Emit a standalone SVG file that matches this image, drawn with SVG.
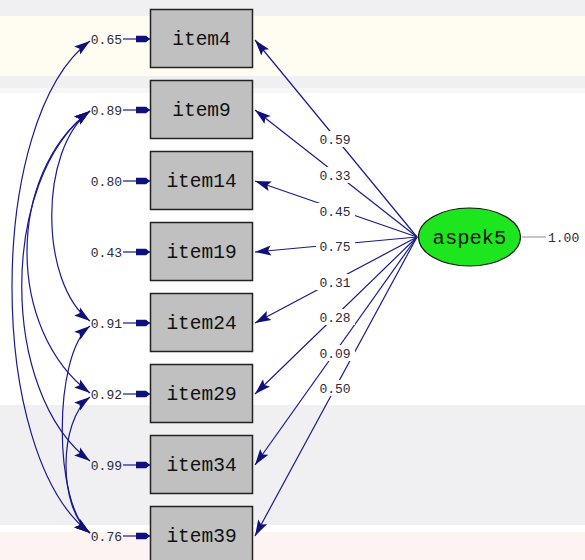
<svg xmlns="http://www.w3.org/2000/svg" width="585" height="560" viewBox="0 0 585 560">
<style>
.box{fill:#c0c0c0;stroke:#222;stroke-width:1.5}
.lbl{font-family:"Liberation Mono","DejaVu Sans Mono",monospace;font-size:19.5px;fill:#111;text-anchor:middle}
.num{font-family:"Liberation Mono","DejaVu Sans Mono",monospace;font-size:13px;fill:#2a2a3a}
.ln{fill:none;stroke:#1a1a8c;stroke-width:1.2}
</style>
<defs>
<marker id="big" viewBox="-17 -6 18 12" refX="0" refY="0" markerWidth="18" markerHeight="12" markerUnits="userSpaceOnUse" orient="auto-start-reverse">
<path d="M0,0 L-16,-5 L-13,0 L-16,5 Z" fill="#10107a"/>
</marker>
<marker id="small" viewBox="-15 -4 16 8" refX="0" refY="0" markerWidth="16" markerHeight="8" markerUnits="userSpaceOnUse" orient="auto">
<path d="M0,0 L-4,-3.2 L-14,-3.2 L-14,3.2 L-4,3.2 Z" fill="#10107a"/>
</marker>
<mask id="gaps" maskUnits="userSpaceOnUse" x="0" y="0" width="585" height="560">
<rect x="0" y="0" width="585" height="560" fill="#fff"/>
<rect x="316" y="131" width="39" height="16" fill="#000"/>
<rect x="316" y="167" width="39" height="16" fill="#000"/>
<rect x="316" y="203" width="39" height="16" fill="#000"/>
<rect x="316" y="238" width="39" height="16" fill="#000"/>
<rect x="316" y="274" width="39" height="16" fill="#000"/>
<rect x="316" y="309" width="39" height="16" fill="#000"/>
<rect x="316" y="345" width="39" height="16" fill="#000"/>
<rect x="316" y="380" width="39" height="16" fill="#000"/>
</mask>
</defs>
<g id="background">
<rect x="0" y="0" width="585" height="560" fill="#ffffff"/>
<rect x="0" y="0" width="585" height="16" fill="#f0f0f2"/>
<rect x="0" y="16" width="585" height="60" fill="#fffdf2"/>
<rect x="0" y="76" width="585" height="12" fill="#f0f0f2"/>
<rect x="0" y="88" width="585" height="5" fill="#f7f7f8"/>
<rect x="0" y="405" width="585" height="120" fill="#f0f0f3"/>
<rect x="0" y="532" width="585" height="28" fill="#fdf3f2"/>
</g>
<g id="connectors">
<g id="loadings" mask="url(#gaps)">
<path class="ln" d="M417,237 L255,40" marker-end="url(#big)"/>
<path class="ln" d="M417,237 L255,110" marker-end="url(#big)"/>
<path class="ln" d="M417,237 L255,181" marker-end="url(#big)"/>
<path class="ln" d="M417,237 L255,252" marker-end="url(#big)"/>
<path class="ln" d="M417,237 L255,323" marker-end="url(#big)"/>
<path class="ln" d="M417,237 L255,394" marker-end="url(#big)"/>
<path class="ln" d="M417,237 L255,465" marker-end="url(#big)"/>
<path class="ln" d="M417,237 L255,536" marker-end="url(#big)"/>
</g>
<g id="errors">
<path class="ln" d="M123,39 L150,39" marker-end="url(#small)"/>
<path class="ln" d="M123,110 L150,110" marker-end="url(#small)"/>
<path class="ln" d="M123,181 L150,181" marker-end="url(#small)"/>
<path class="ln" d="M123,252 L150,252" marker-end="url(#small)"/>
<path class="ln" d="M123,323 L150,323" marker-end="url(#small)"/>
<path class="ln" d="M123,394 L150,394" marker-end="url(#small)"/>
<path class="ln" d="M123,465 L150,465" marker-end="url(#small)"/>
<path class="ln" d="M123,536 L150,536" marker-end="url(#small)"/>
</g>
<g id="covariances">
<path class="ln" d="M90,41 C-14,119 -14,455 90,533" marker-start="url(#big)" marker-end="url(#big)"/>
<path class="ln" d="M90,111 C39,149 39,283 90,321" marker-start="url(#big)" marker-end="url(#big)"/>
<path class="ln" d="M90,111 C6,174 6,330 90,393" marker-start="url(#big)" marker-end="url(#big)"/>
<path class="ln" d="M90,111 C-1,179 -1,393 90,461" marker-start="url(#big)" marker-end="url(#big)"/>
<path class="ln" d="M90,326 C53,354 53,505 90,533" marker-start="url(#big)" marker-end="url(#big)"/>
<path class="ln" d="M90,397 C58,421 58,509 90,533" marker-start="url(#big)" marker-end="url(#big)"/>
</g>
<path id="var" d="M522,237 L546,237" fill="none" stroke="#a0a0a0" stroke-width="1.2"/>
</g>
<g id="loading-labels">
<text class="num" x="335" y="143.5" text-anchor="middle">0.59</text>
<text class="num" x="335" y="179.5" text-anchor="middle">0.33</text>
<text class="num" x="335" y="215.5" text-anchor="middle">0.45</text>
<text class="num" x="335" y="250.5" text-anchor="middle">0.75</text>
<text class="num" x="335" y="286.5" text-anchor="middle">0.31</text>
<text class="num" x="335" y="321.5" text-anchor="middle">0.28</text>
<text class="num" x="335" y="357.5" text-anchor="middle">0.09</text>
<text class="num" x="335" y="392.5" text-anchor="middle">0.50</text>
</g>
<g id="item4"><rect class="box" x="150.5" y="9.5" width="102" height="58"/><text class="lbl" x="201.5" y="45">item4</text><text class="num" x="122" y="43.5" text-anchor="end">0.65</text></g>
<g id="item9"><rect class="box" x="150.5" y="80.5" width="102" height="58"/><text class="lbl" x="201.5" y="116">item9</text><text class="num" x="122" y="114.5" text-anchor="end">0.89</text></g>
<g id="item14"><rect class="box" x="150.5" y="151.5" width="102" height="58"/><text class="lbl" x="201.5" y="187">item14</text><text class="num" x="122" y="185.5" text-anchor="end">0.80</text></g>
<g id="item19"><rect class="box" x="150.5" y="222.5" width="102" height="58"/><text class="lbl" x="201.5" y="258">item19</text><text class="num" x="122" y="256.5" text-anchor="end">0.43</text></g>
<g id="item24"><rect class="box" x="150.5" y="293.5" width="102" height="58"/><text class="lbl" x="201.5" y="329">item24</text><text class="num" x="122" y="327.5" text-anchor="end">0.91</text></g>
<g id="item29"><rect class="box" x="150.5" y="364.5" width="102" height="58"/><text class="lbl" x="201.5" y="400">item29</text><text class="num" x="122" y="398.5" text-anchor="end">0.92</text></g>
<g id="item34"><rect class="box" x="150.5" y="435.5" width="102" height="58"/><text class="lbl" x="201.5" y="471">item34</text><text class="num" x="122" y="469.5" text-anchor="end">0.99</text></g>
<g id="item39"><rect class="box" x="150.5" y="506.5" width="102" height="58"/><text class="lbl" x="201.5" y="542">item39</text><text class="num" x="122" y="540.5" text-anchor="end">0.76</text></g>
<g id="aspek5"><ellipse cx="469.5" cy="237" rx="51" ry="29" fill="#1ee61e" stroke="#111" stroke-width="1.2"/><text class="lbl" x="469.5" y="243.5" style="font-size:20.5px">aspek5</text><text class="num" x="548" y="241.5">1.00</text></g>
</svg>
